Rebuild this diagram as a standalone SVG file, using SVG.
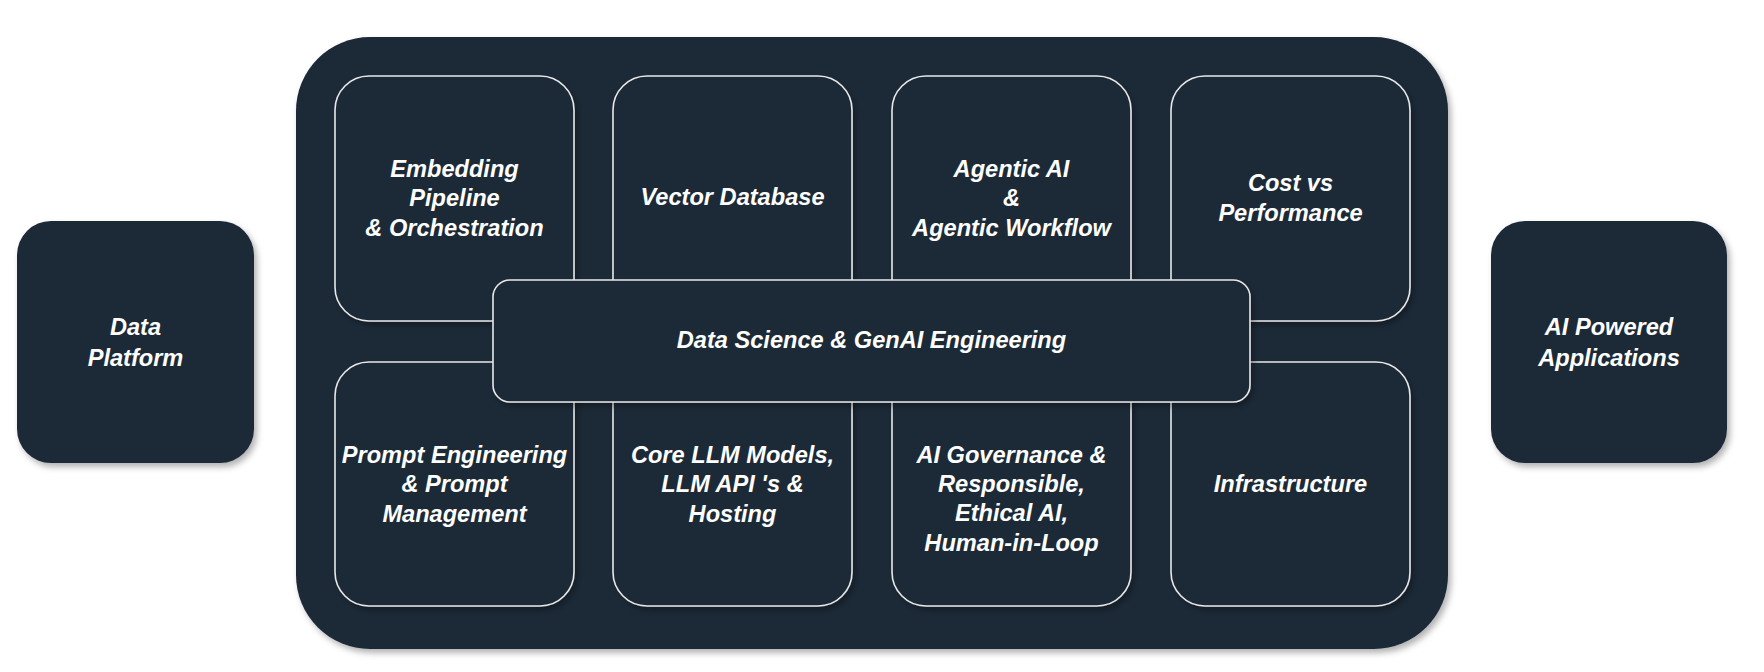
<svg xmlns="http://www.w3.org/2000/svg" width="1764" height="672" viewBox="0 0 1764 672">
<defs>
<filter id="sh" x="-10%" y="-10%" width="130%" height="130%">
<feDropShadow dx="3" dy="4" stdDeviation="3" flood-color="#000" flood-opacity="0.3"/>
</filter>
<style>
.big{fill:#1d2939;filter:url(#sh)}
.card{fill:#1d2939;stroke:#e8e8e8;stroke-width:1.6;filter:url(#sh)}
.t{font-family:"Liberation Sans",Arial,sans-serif;font-weight:bold;font-style:italic;font-size:23.6px;fill:#ffffff;text-anchor:middle;dominant-baseline:central}
</style>
</defs>
<rect width="1764" height="672" fill="#ffffff"/>
<g id="data-platform">
<rect class="big" x="17" y="221" width="237" height="242" rx="34"/>
<text class="t" x="135.5" y="327">Data</text>
<text class="t" x="135.5" y="358">Platform</text>
</g>
<g id="ai-powered-applications">
<rect class="big" x="1491" y="221" width="236" height="242" rx="34"/>
<text class="t" x="1609" y="327">AI Powered</text>
<text class="t" x="1609" y="358">Applications</text>
</g>
<g id="container">
<rect class="big" x="296" y="37" width="1152" height="612" rx="74"/>
</g>
<g id="embedding">
<rect class="card" x="335" y="76" width="239" height="245" rx="34"/>
<text class="t" x="454.5" y="169">Embedding</text>
<text class="t" x="454.5" y="198">Pipeline</text>
<text class="t" x="454.5" y="228">&amp; Orchestration</text>
</g>
<g id="vector-database">
<rect class="card" x="613" y="76" width="239" height="245" rx="34"/>
<text class="t" x="732.5" y="197">Vector Database</text>
</g>
<g id="agentic-ai">
<rect class="card" x="892" y="76" width="239" height="245" rx="34"/>
<text class="t" x="1011.5" y="169">Agentic AI</text>
<text class="t" x="1011.5" y="198">&amp;</text>
<text class="t" x="1011.5" y="228">Agentic Workflow</text>
</g>
<g id="cost-vs-performance">
<rect class="card" x="1171" y="76" width="239" height="245" rx="34"/>
<text class="t" x="1290.5" y="183">Cost vs</text>
<text class="t" x="1290.5" y="213">Performance</text>
</g>
<g id="prompt-engineering">
<rect class="card" x="335" y="362" width="239" height="244" rx="34"/>
<text class="t" x="454.5" y="455">Prompt Engineering</text>
<text class="t" x="454.5" y="484">&amp; Prompt</text>
<text class="t" x="454.5" y="514">Management</text>
</g>
<g id="core-llm">
<rect class="card" x="613" y="362" width="239" height="244" rx="34"/>
<text class="t" x="732.5" y="455">Core LLM Models,</text>
<text class="t" x="732.5" y="484">LLM API 's &amp;</text>
<text class="t" x="732.5" y="514">Hosting</text>
</g>
<g id="ai-governance">
<rect class="card" x="892" y="362" width="239" height="244" rx="34"/>
<text class="t" x="1011.5" y="455">AI Governance &amp;</text>
<text class="t" x="1011.5" y="484">Responsible,</text>
<text class="t" x="1011.5" y="513">Ethical AI,</text>
<text class="t" x="1011.5" y="543">Human-in-Loop</text>
</g>
<g id="infrastructure">
<rect class="card" x="1171" y="362" width="239" height="244" rx="34"/>
<text class="t" x="1290.5" y="484">Infrastructure</text>
</g>
<g id="data-science">
<rect class="card" x="493" y="280" width="757" height="122" rx="17"/>
<text class="t" x="871.5" y="340">Data Science &amp; GenAI Engineering</text>
</g>
<g id="connectors"></g>
</svg>
